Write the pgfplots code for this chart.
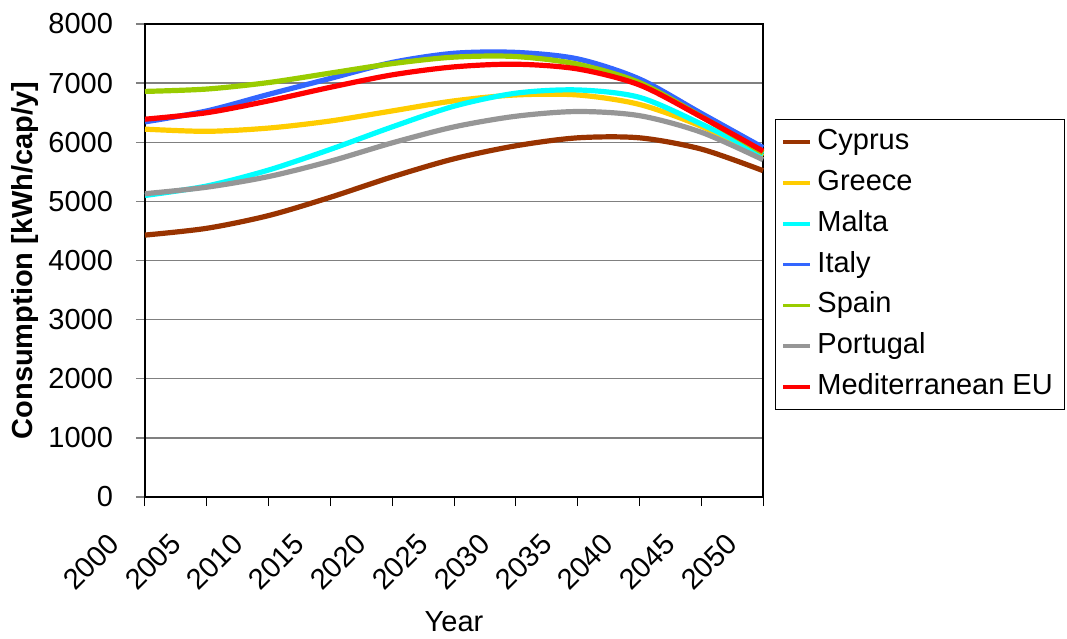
\documentclass[border=0pt]{standalone}
\usepackage{fontspec}
\setmainfont{Liberation Sans}
\usepackage{pgfplots}
\pgfplotsset{compat=1.18}

\definecolor{cyprus}{HTML}{993300}
\definecolor{greece}{HTML}{FFCC00}
\definecolor{malta}{HTML}{00FFFF}
\definecolor{italy}{HTML}{3366FF}
\definecolor{spain}{HTML}{99CC00}
\definecolor{portugal}{HTML}{969696}
\definecolor{medeu}{HTML}{FF0000}
\definecolor{gridgray}{HTML}{808080}

\newcommand{\chartfont}{\fontsize{14.5bp}{17bp}\selectfont}

\begin{document}
\begin{tikzpicture}
\path[use as bounding box] (-72.5bp,-71bp) rectangle (461bp,248.5bp);
\begin{axis}[
  at={(0,0)}, anchor=south west,
  scale only axis,
  width=309bp, height=236.5bp,
  xmin=2000, xmax=2050,
  ymin=0, ymax=8000,
  xtick={2000,2005,...,2050},
  ytick={0,1000,...,8000},
  /pgf/number format/1000 sep={},
  /pgf/number format/assume math mode=true,
  tick label style={font=\chartfont},
  label style={font=\chartfont},
  xticklabel style={xshift=-27bp, yshift=-28bp, rotate=45, anchor=center},
  yticklabel style={xshift=-8bp},
  tick align=outside,
  tick pos=left,
  major tick length=4.5bp,
  xtick style={black, line width=0.5bp},
  ytick style={gridgray, line width=0.7bp},
  ymajorgrids,
  major grid style={gridgray, line width=0.7bp},
  axis line style={black, line width=0.6bp},
  xlabel={Year},
  ylabel={\bfseries Consumption [kWh/cap/y]},
  xlabel style={at={(axis description cs:0.5,-0.264)}, anchor=center},
  ylabel style={at={(axis description cs:-0.194,0.5)}, anchor=center},
  clip=false,
  legend cell align=left,
  legend style={
    at={(1.019,0.799)}, anchor=north west,
    draw=black, line width=0.5bp,
    font=\chartfont,
    inner xsep=3bp, inner ysep=2.6bp,
    row sep=2.9bp,
    nodes={inner ysep=1.5bp, inner xsep=2.8bp, text height=11bp, text depth=3.5bp},
  },
  legend image code/.code={\draw[#1, line width=1.8bp] (0bp,0bp) -- (13.5bp,0bp);},
  every axis plot/.append style={line width=2.6bp, smooth},
]
\addplot[cyprus] coordinates {
  (2000,4430) (2005,4545) (2010,4760) (2015,5070) (2020,5415) (2025,5720)
  (2030,5940) (2035,6075) (2040,6075) (2045,5885) (2050,5520)};
\addlegendentry{Cyprus}
\addplot[greece] coordinates {
  (2000,6222) (2005,6185) (2010,6240) (2015,6360) (2020,6530) (2025,6700)
  (2030,6800) (2035,6800) (2040,6640) (2045,6270) (2050,5760)};
\addlegendentry{Greece}
\addplot[malta] coordinates {
  (2000,5100) (2005,5260) (2010,5530) (2015,5880) (2020,6260) (2025,6610)
  (2030,6830) (2035,6885) (2040,6760) (2045,6310) (2050,5790)};
\addlegendentry{Malta}
\addplot[italy] coordinates {
  (2000,6345) (2005,6530) (2010,6810) (2015,7080) (2020,7350) (2025,7505)
  (2030,7520) (2035,7410) (2040,7070) (2045,6490) (2050,5910)};
\addlegendentry{Italy}
\addplot[spain] coordinates {
  (2000,6860) (2005,6900) (2010,7010) (2015,7170) (2020,7330) (2025,7440)
  (2030,7450) (2035,7320) (2040,7010) (2045,6435) (2050,5820)};
\addlegendentry{Spain}
\addplot[portugal] coordinates {
  (2000,5130) (2005,5240) (2010,5420) (2015,5680) (2020,5990) (2025,6260)
  (2030,6440) (2035,6520) (2040,6450) (2045,6170) (2050,5705)};
\addlegendentry{Portugal}
\addplot[medeu] coordinates {
  (2000,6390) (2005,6500) (2010,6700) (2015,6930) (2020,7140) (2025,7275)
  (2030,7320) (2035,7240) (2040,6970) (2045,6430) (2050,5850)};
\addlegendentry{Mediterranean EU}
\end{axis}
\end{tikzpicture}
\end{document}
